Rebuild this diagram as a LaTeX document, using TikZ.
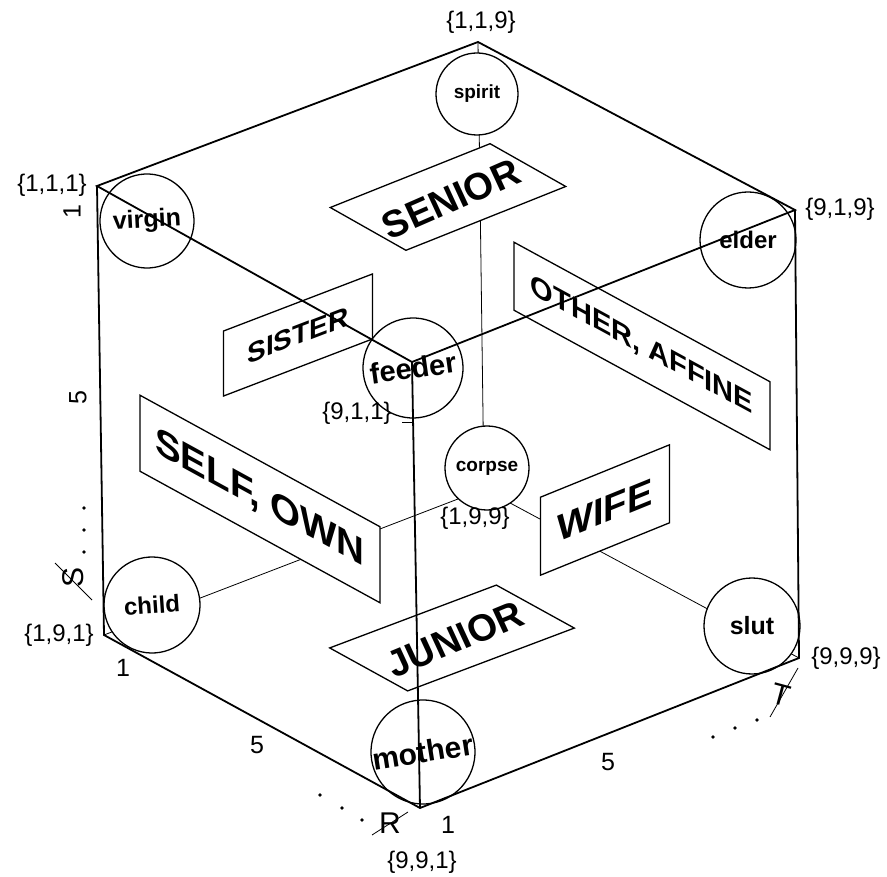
\documentclass[tikz,border=0pt]{standalone}
\usepackage{fontspec}
\setmainfont{Liberation Sans}
\begin{document}
\begin{tikzpicture}[x=1pt,y=-1pt,
  edge/.style={line width=1.8pt,line join=miter},
  hidden/.style={line width=0.8pt},
  ball/.style={circle,draw,fill=white,line width=1.3pt,inner sep=0pt},
  plate/.style={draw,fill=white,line width=1.3pt,inner sep=0pt},
  flat/.style={inner sep=0pt,font=\bfseries\fontsize{38}{38}\selectfont},
  vlab/.style={font=\fontsize{24}{24}\selectfont,inner sep=0pt},
  alab/.style={font=\fontsize{25}{25}\selectfont,inner sep=0pt},
  axl/.style={font=\fontsize{30}{30}\selectfont,inner sep=0pt},
  dot/.style={fill=black}
]
\useasboundingbox (0,0) rectangle (887,877);

% cube vertices {R,S,T}
\coordinate (v111) at (97,186);
\coordinate (v119) at (478,42);
\coordinate (v919) at (795,210);
\coordinate (v911) at (412,362);
\coordinate (v191) at (104,635);
\coordinate (v991) at (420,808);
\coordinate (v999) at (799,658);
\coordinate (v199) at (484,489);

% hidden edges
\draw[hidden] (v119) -- (v199);
\draw[hidden] (v191) -- (v199);
\draw[hidden] (v999) -- (v199);

% horizontal plates
\node[plate,minimum width=172pt,minimum height=87pt,
  cm={0.929,0.371,-0.870,0.492,(0,0)}] (senior) at (448,197) {};
\node[flat,cm={0.915,0.40,-0.42,0.91,(0,0)}] (seniortxt) at (451,199) {SENIOR};
\node[plate,minimum width=178pt,minimum height=89pt,
  cm={0.936,0.353,-0.876,0.483,(0,0)}] (junior) at (452,638) {};
\node[flat,cm={0.92,0.38,-0.42,0.91,(0,0)}] (juniortxt) at (455,639) {JUNIOR};

% vertical plates
\node[plate,minimum width=149pt,minimum height=65pt,
  cm={1,0.383,0,1,(0,0)},
  font=\bfseries\fontsize{28}{28}\selectfont] (sister) at (298,335) {SISTER};
\node[plate,minimum width=240pt,minimum height=76pt,
  cm={1,-0.548,0,1,(0,0)},
  font=\bfseries\fontsize{38.5}{38.5}\selectfont] (self) at (260,499) {SELF, OWN};
\node[plate,minimum width=256pt,minimum height=68pt,
  cm={1,-0.545,0,1,(0,0)},
  font=\bfseries\fontsize{29}{29}\selectfont] (other) at (642,346) {OTHER, AFFINE};
\node[plate,minimum width=129pt,minimum height=78pt,
  cm={1,0.406,0,1,(0,0)},
  font=\bfseries\fontsize{38}{38}\selectfont] (wife) at (605,510) {WIFE};

% vertex balls
\node[ball,minimum size=82pt,font=\bfseries\fontsize{19}{19}\selectfont] (spirit) at (477,94) {spirit};
\node[ball,minimum size=94pt,font=\bfseries\fontsize{25}{25}\selectfont,rotate=3] (virgin) at (147,221) {virgin};
\node[ball,minimum size=96pt,font=\bfseries\fontsize{24}{24}\selectfont] (elder) at (748,240) {elder};
\node[ball,minimum size=100pt,font=\bfseries\fontsize{29}{29}\selectfont,rotate=8] (feeder) at (413,368) {feeder};
\node[ball,minimum size=84pt,font=\bfseries\fontsize{19}{19}\selectfont] (corpse) at (487,468) {corpse};
\node[ball,minimum size=96pt,font=\bfseries\fontsize{24}{24}\selectfont,rotate=4] (child) at (152,605) {child};
\node[ball,minimum size=104pt,font=\bfseries\fontsize{30}{30}\selectfont,rotate=9] (mother) at (423,752) {mother};
\node[ball,minimum size=96pt,font=\bfseries\fontsize{25}{25}\selectfont] (slut) at (752,626) {slut};

% visible edges
\draw[edge] (v111) -- (v119) -- (v919) -- (v911) -- cycle;
\draw[edge] (v111) -- (v191) -- (v991) -- (v999) -- (v919);
\draw[edge] (v911) -- (v991);

% vertex labels
\node[vlab] (l119) at (481,22) {\{1,1,9\}};
\node[vlab] (l111) at (52,185) {\{1,1,1\}};
\node[vlab] (l919) at (840,209) {\{9,1,9\}};
\node[vlab] (l911) at (357,413) {\{9,1,1\}};
\coordinate (t911) at (402,422);
\draw[line width=0.8pt] (t911) -- (t911 -| v911);
\node[vlab] (l199) at (475,518) {\{1,9,9\}};
\node[vlab] (l191) at (59,635) {\{1,9,1\}};
\node[vlab] (l991) at (422,862) {\{9,9,1\}};
\node[vlab] (l999) at (846,658) {\{9,9,9\}};

% S axis
\node[alab,rotate=90] (s1) at (72,212) {1};
\node[alab,rotate=90] (s5) at (78,398) {5};
\node[axl,rotate=90] (sS) at (73,577) {S};
\fill[dot] (84,508) circle (1.8);
\fill[dot] (84,530) circle (1.8);
\fill[dot] (84,552) circle (1.8);
\draw[line width=0.8pt] (55,563) -- (92,600);

% R axis
\node[alab] (r1) at (123,668) {1};
\node[alab] (r5) at (257,745) {5};
\fill[dot] (320,795) circle (1.8);
\fill[dot] (342,808) circle (1.8);
\fill[dot] (362,820) circle (1.8);
\node[axl] (rR) at (390,823) {R};
\draw[line width=0.8pt] (372,835) -- (408,812);

% T axis
\node[alab] (t1) at (448,825) {1};
\node[alab] (t5) at (608,762) {5};
\fill[dot] (713,737) circle (1.8);
\fill[dot] (735,728) circle (1.8);
\fill[dot] (757,720) circle (1.8);
\node[axl,rotate=-15] (tT) at (781,695) {T};
\draw[line width=0.8pt] (770,717) -- (798,668);
\end{tikzpicture}
\end{document}
